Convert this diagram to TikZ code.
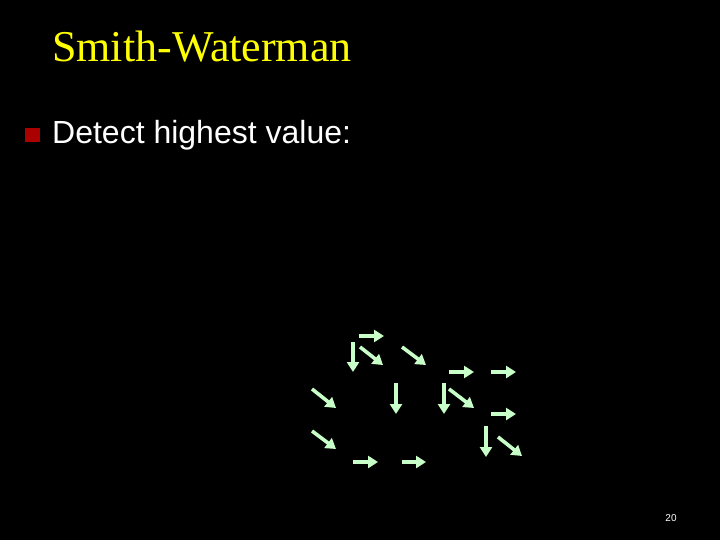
\documentclass[tikz,border=0pt]{standalone}
\usepackage{fontspec}
\setmainfont{Liberation Serif}
\setsansfont{Liberation Sans}
\usetikzlibrary{arrows.meta}
\definecolor{titleyellow}{RGB}{255,255,0}
\definecolor{bulletred}{RGB}{170,0,0}
\definecolor{arrowgreen}{RGB}{200,255,200}
\tikzset{
    title text/.style={text=titleyellow,font=\fontsize{44}{50}\selectfont,inner sep=0pt,anchor=base west},
    body text/.style={text=white,font=\sffamily\fontsize{32}{38}\selectfont,inner sep=0pt,anchor=base west},
    page number/.style={text=white,font=\sffamily\fontsize{10}{12}\selectfont,inner sep=0pt},
    trace arr/.style={arrowgreen,line width=3.6pt,-{Triangle[length=10pt,width=12pt]}},
}
\begin{document}
\begin{tikzpicture}[x=1pt,y=-1pt]
        \useasboundingbox[fill=black] (0,0) rectangle (720,540);
        \node[title text] (title) at (52,62) {Smith-Waterman};
        \fill[bulletred] (25,128) rectangle (40,142);
        \node[body text] (detect) at (52,143.5) {Detect highest value:};
        \node[page number] (num) at (671,518) {20};
        % traceback arrows
        \foreach \xa/\ya/\xb/\yb in {
            359/336/384/336, 353/342/353/372, 360/347/383/365, 402/347/426/365,
            449/372/474/372, 491/372/516/372, 312/389/336/408, 396/383/396/414,
            444/383/444/414, 449/389/474/408, 491/414/516/414, 312/431/336/449,
            486/426/486/457, 498/437/522/456, 353/462/378/462, 402/462/426/462}
            \draw[trace arr] (\xa,\ya) -- (\xb,\yb);
    \end{tikzpicture}
\end{document}
